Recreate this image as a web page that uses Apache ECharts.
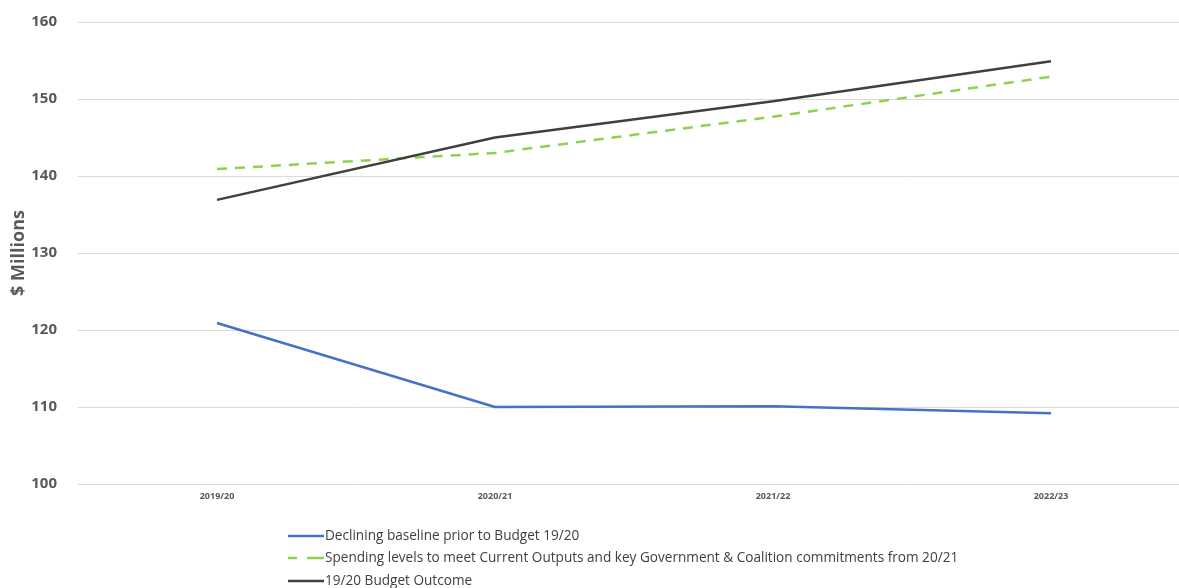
<!DOCTYPE html>
<html>
<head>
<meta charset="utf-8">
<script src="https://cdn.jsdelivr.net/npm/echarts@6/dist/echarts.min.js"></script>
<style>html,body{margin:0;padding:0;background:#fff;}#c{width:1179px;height:588px;}</style>
</head>
<body>
<div id="c"></div>
<script>
const categories = ['2019/20', '2020/21', '2021/22', '2022/23'];
const baseline = [120.9, 110.0, 110.1, 109.2];
const spending = [140.9, 143.0, 147.7, 152.9];
const outcome = [136.9, 145.0, 149.7, 154.9];
const seriesNames = [
  'Declining baseline prior to Budget 19/20',
  'Spending levels to meet Current Outputs and key Government & Coalition commitments from 20/21',
  '19/20 Budget Outcome'
];
const yTicks = { min: 100, max: 160, interval: 10 };

const chart = echarts.init(document.getElementById('c'), null, { renderer: 'canvas' });
const font = '"Open Sans", "Noto Sans", sans-serif';
const solidIcon = 'path://M0,8 L36,8 L36,10.5 L0,10.5 Z';
const dashIcon = 'path://M0,8 L9,8 L9,10.5 L0,10.5 Z M19,8 L36,8 L36,10.5 L19,10.5 Z';
const colors = ['#4472C4', '#8FD14F', '#404040'];
const icons = [solidIcon, dashIcon, solidIcon];
const legendTops = [529, 551, 574];

chart.setOption({
  animation: false,
  backgroundColor: '#ffffff',
  grid: { left: 78, width: 1112, top: 22, bottom: 104, containLabel: false, outerBoundsMode: 'none' },
  legend: seriesNames.map((n, i) => ({
    orient: 'horizontal',
    left: 288,
    top: legendTops[i],
    padding: 0,
    itemWidth: 36,
    itemHeight: 18,
    textStyle: { color: '#404040', fontSize: 13.6, fontFamily: font, padding: [0, 0, 0, -4] },
    data: [{ name: n, icon: icons[i], itemStyle: { color: colors[i] } }]
  })),
  xAxis: {
    type: 'category',
    data: categories,
    boundaryGap: true,
    axisLine: { show: false },
    axisTick: { show: false },
    axisLabel: { color: '#595959', fontSize: 9, fontWeight: 'bold', fontFamily: font, margin: 8 }
  },
  yAxis: {
    type: 'value',
    min: yTicks.min,
    max: yTicks.max,
    interval: yTicks.interval,
    name: '$ Millions',
    nameLocation: 'middle',
    nameGap: 50,
    nameRotate: 90,
    nameMoveOverlap: false,
    nameTextStyle: { color: '#595959', fontSize: 18, fontWeight: 'bold', fontFamily: font },
    axisLine: { show: false },
    axisTick: { show: false },
    axisLabel: { color: '#595959', fontSize: 15, fontWeight: 'bold', fontFamily: font, margin: 21 },
    splitLine: { lineStyle: { color: '#d9d9d9', width: 1 } }
  },
  series: [
    {
      name: seriesNames[0], type: 'line', data: baseline, symbol: 'none',
      lineStyle: { color: colors[0], width: 2.5 }, itemStyle: { color: colors[0] }
    },
    {
      name: seriesNames[1], type: 'line', data: spending, symbol: 'none',
      lineStyle: { color: colors[1], width: 2.5, type: [10, 8] }, itemStyle: { color: colors[1] }
    },
    {
      name: seriesNames[2], type: 'line', data: outcome, symbol: 'none',
      lineStyle: { color: colors[2], width: 2.5 }, itemStyle: { color: colors[2] }
    }
  ]
});
</script>
</body>
</html>
